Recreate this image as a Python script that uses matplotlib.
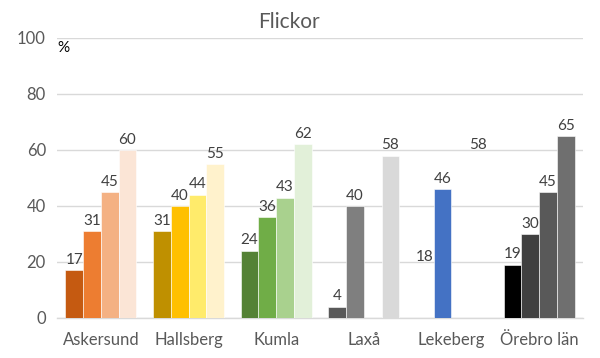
import matplotlib
matplotlib.use("Agg")
import matplotlib.pyplot as plt
import numpy as np

categories = ["Askersund", "Hallsberg", "Kumla", "Laxå", "Lekeberg", "Örebro län"]
values = [
    [17, 31, 45, 60],
    [31, 40, 44, 55],
    [24, 36, 43, 62],
    [4, 40, None, 58],
    [18, 46, None, 58],
    [19, 30, 45, 65],
]
colors = [
    ["#C55A11", "#ED7D31", "#F4B183", "#FBE5D6"],
    ["#BF9000", "#FFC000", "#FFEB6B", "#FFF2CC"],
    ["#548235", "#70AD47", "#A9D18E", "#E2F0D9"],
    ["#595959", "#7F7F7F", "#BFBFBF", "#D9D9D9"],
    ["none", "#4472C4", "none", "none"],
    ["#000000", "#404040", "#595959", "#6F6F6F"],
]

plt.rcParams['font.family'] = ['Lato', 'DejaVu Sans']
fig = plt.figure(figsize=(6.0, 3.58), dpi=100)
ax = fig.add_axes([57/600, 1-318/358, 526/600, 280/358])

bw = 0.202
x = np.arange(len(categories))
for i, (vals, cols) in enumerate(zip(values, colors)):
    for j, (v, c) in enumerate(zip(vals, cols)):
        if v is None:
            continue
        xpos = x[i] + (j - 1.5) * bw
        ec = 'white' if c != 'none' else 'none'
        ax.bar(xpos, v, width=bw, facecolor=c, edgecolor=ec, linewidth=0.4, zorder=3)
        ax.text(xpos, v + 1.2, str(v), ha='center', va='bottom', fontsize=11, color='#404040', zorder=4)

ax.set_xlim(-0.5, len(categories) - 0.5)
ax.set_ylim(0, 100)
ax.set_yticks(range(0, 101, 20))
ax.set_xticks(x)
ax.set_xticklabels(categories)
ax.grid(axis='y', color='#D9D9D9', linewidth=1, zorder=0)
for s in ['top', 'right', 'left']:
    ax.spines[s].set_visible(False)
ax.spines['bottom'].set_color('#D9D9D9')
ax.spines['bottom'].set_linewidth(1)
ax.tick_params(axis='both', length=0, labelsize=12, colors='#595959')
ax.tick_params(axis='y', pad=8)
ax.tick_params(axis='x', pad=10)
ax.text(0.0, 0.99, "%", transform=ax.transAxes, fontsize=11, color='black', va='top', ha='left')
fig.text(289/600, 1-22/358, "Flickor", ha='center', va='center', fontsize=15, color='#595959')

fig.savefig("out.png", dpi=100)
